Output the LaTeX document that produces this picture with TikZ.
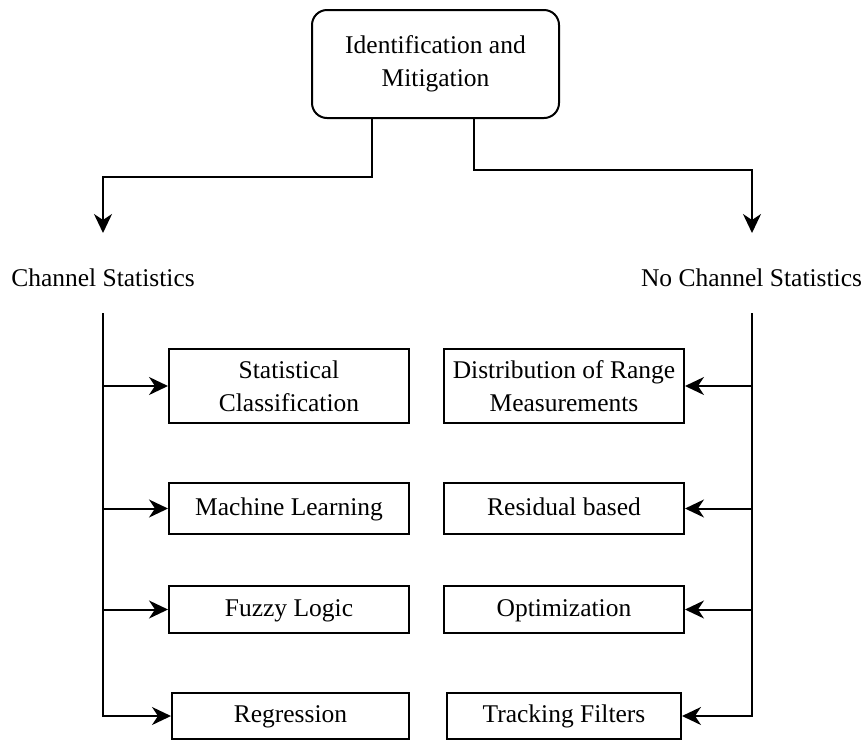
\documentclass[tikz,border=0pt]{standalone}
\usepackage{fontspec}
\setmainfont{Liberation Serif}
\usetikzlibrary{arrows.meta}
\begin{document}
\begin{tikzpicture}[x=1pt,y=-1pt,
  every node/.style={font=\fontsize{25.5}{33}\selectfont, align=center, inner sep=0pt},
  topbox/.style={draw, line width=2pt, rounded corners=15pt, minimum width=247pt, minimum height=108pt},
  boxnode/.style={draw, line width=2pt, minimum width=240pt},
  conn/.style={line width=2pt},
  arr/.style={line width=2pt, -{Stealth[length=19pt,width=18pt,inset=6pt]}}
]
\useasboundingbox (0,0) rectangle (866,740);
\fill[white] (0,0) rectangle (866,740);

\node[topbox] (top) at (435.5,64) {Identification and\\Mitigation};

\node (cs) at (103,278) {Channel Statistics};
\node (ncs) at (751.5,278) {No Channel Statistics};

\coordinate (la) at (103,233);
\coordinate (ra) at (752,233);

\draw[arr] ([xshift=-63.5pt]top.south) -- ++(0,58) -| (la);
\draw[arr] ([xshift=38.5pt]top.south) -- ++(0,51) -| (ra);

% left column
\node[boxnode, minimum height=74pt] (sc) at (289,386) {Statistical\\Classification};
\node[boxnode, minimum height=51pt] (ml) at (289,508.5) {\strut Machine Learning};
\node[boxnode, minimum height=47pt] (fl) at (289,609.5) {\strut Fuzzy Logic};
\node[boxnode, minimum height=46pt, minimum width=237pt] (rg) at (290.5,716) {\strut Regression};

% right column
\node[boxnode, minimum height=74pt] (dr) at (564,386) {Distribution of Range\\Measurements};
\node[boxnode, minimum height=51pt] (rb) at (564,508.5) {\strut Residual based};
\node[boxnode, minimum height=47pt] (op) at (564,609.5) {\strut Optimization};
\node[boxnode, minimum height=46pt, minimum width=234pt] (tf) at (564,716) {\strut Tracking Filters};

\coordinate (lt) at (103,313);
\coordinate (rt) at (752,313);

\draw[arr] (lt) |- (rg.west);
\draw[arr] (lt |- sc.west) -- (sc.west);
\draw[arr] (lt |- ml.west) -- (ml.west);
\draw[arr] (lt |- fl.west) -- (fl.west);

\draw[arr] (rt) |- (tf.east);
\draw[arr] (rt |- dr.east) -- (dr.east);
\draw[arr] (rt |- rb.east) -- (rb.east);
\draw[arr] (rt |- op.east) -- (op.east);
\end{tikzpicture}
\end{document}
